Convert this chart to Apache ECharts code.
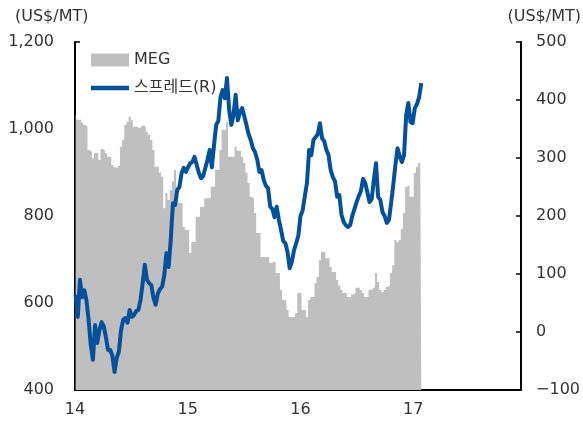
<!DOCTYPE html>
<html>
<head>
<meta charset="utf-8">
<script src="https://cdn.jsdelivr.net/npm/echarts@6/dist/echarts.min.js"></script>
<style>
  html, body { margin: 0; padding: 0; background: #fff; }
  #chart { width: 583px; height: 421px; }
</style>
</head>
<body>
<div id="chart"></div>
<script>
// Weekly observations (Friday closes), Jan 2014 - Jan 2017
const dates = [
  '2014-01-03','2014-01-10','2014-01-17','2014-01-24','2014-01-31','2014-02-07','2014-02-14','2014-02-21','2014-02-28',
  '2014-03-07','2014-03-14','2014-03-21','2014-03-28','2014-04-04','2014-04-11','2014-04-18','2014-04-25',
  '2014-05-02','2014-05-09','2014-05-16','2014-05-23','2014-05-30','2014-06-06','2014-06-13','2014-06-20','2014-06-27',
  '2014-07-04','2014-07-11','2014-07-18','2014-07-25','2014-08-01','2014-08-08','2014-08-15','2014-08-22','2014-08-29',
  '2014-09-05','2014-09-12','2014-09-19','2014-09-26','2014-10-03','2014-10-10','2014-10-17','2014-10-24','2014-10-31',
  '2014-11-07','2014-11-14','2014-11-21','2014-11-28','2014-12-05','2014-12-12','2014-12-19','2014-12-26',
  '2015-01-02','2015-01-09','2015-01-16','2015-01-23','2015-01-30','2015-02-06','2015-02-13','2015-02-20','2015-02-27',
  '2015-03-06','2015-03-13','2015-03-20','2015-03-27','2015-04-03','2015-04-10','2015-04-17','2015-04-24',
  '2015-05-01','2015-05-08','2015-05-15','2015-05-22','2015-05-29','2015-06-05','2015-06-12','2015-06-19','2015-06-26',
  '2015-07-03','2015-07-10','2015-07-17','2015-07-24','2015-07-31','2015-08-07','2015-08-14','2015-08-21','2015-08-28',
  '2015-09-04','2015-09-11','2015-09-18','2015-09-25','2015-10-02','2015-10-09','2015-10-16','2015-10-23','2015-10-30',
  '2015-11-06','2015-11-13','2015-11-20','2015-11-27','2015-12-04','2015-12-11','2015-12-18','2015-12-25',
  '2016-01-01','2016-01-08','2016-01-15','2016-01-22','2016-01-29','2016-02-05','2016-02-12','2016-02-19','2016-02-26',
  '2016-03-04','2016-03-11','2016-03-18','2016-03-25','2016-04-01','2016-04-08','2016-04-15','2016-04-22','2016-04-29',
  '2016-05-06','2016-05-13','2016-05-20','2016-05-27','2016-06-03','2016-06-10','2016-06-17','2016-06-24',
  '2016-07-01','2016-07-08','2016-07-15','2016-07-22','2016-07-29','2016-08-05','2016-08-12','2016-08-19','2016-08-26',
  '2016-09-02','2016-09-09','2016-09-16','2016-09-23','2016-09-30','2016-10-07','2016-10-14','2016-10-21','2016-10-28',
  '2016-11-04','2016-11-11','2016-11-18','2016-11-25','2016-12-02','2016-12-09','2016-12-16','2016-12-23','2016-12-30',
  '2017-01-06','2017-01-13','2017-01-20','2017-01-27'
];

// MEG price (US$/MT, left axis)
const megPrice = [
  1032,1021,1021,1015,1009,1005,952,948,933,945,
  945,929,954,952,945,936,936,917,912,910,
  915,959,975,1009,1016,1028,1020,1005,1005,1002,
  1005,1009,1005,993,986,975,952,913,913,900,
  890,818,853,837,860,880,906,860,830,830,
  775,768,768,715,740,740,798,798,821,821,
  841,841,841,867,867,906,906,952,998,998,
  1016,936,936,936,959,950,950,936,922,900,
  876,844,840,807,761,761,706,706,706,706,
  692,694,694,669,669,630,607,607,584,568,
  568,568,577,623,623,584,584,568,607,614,
  614,646,660,699,717,717,703,703,683,671,
  671,653,640,630,623,623,614,614,620,623,
  635,635,630,623,614,614,630,633,637,669,
  648,630,625,630,637,640,669,687,745,740,
  745,770,807,867,871,844,844,899,913,922,
  952
];

// Spread (US$/MT, right axis)
const spread = [
  64,26,90,60,72,55,21,-22,-48,12,
  -19,3,17,10,-9,-31,-31,-41,-69,-45,
  -34,3,21,24,16,38,26,29,36,38,
  55,84,116,90,84,81,59,47,66,74,
  78,98,136,112,159,222,219,245,250,274,
  283,276,284,291,293,302,288,274,265,269,
  283,297,314,284,322,357,364,405,417,403,
  438,383,357,374,409,365,379,386,372,357,
  341,331,317,310,297,276,279,262,252,248,
  216,212,198,216,193,176,157,153,138,110,
  121,141,153,166,200,210,234,257,314,305,
  331,336,341,360,334,329,314,305,279,267,
  260,233,236,202,190,184,181,184,200,212,
  224,234,243,264,257,241,224,229,262,291,
  233,228,207,200,188,193,222,253,288,317,
  303,293,305,374,395,362,360,386,393,405,
  429
];

const yearTicks = [14, 15, 16, 17];
const leftTicks = [400, 600, 800, 1000, 1200];
const rightTicks = [-100, 0, 100, 200, 300, 400, 500];

// Convert a date string into a two-digit decimal year (2014-01-01 -> 14.0)
function decimalYear(s) {
  const [y, m, d] = s.split('-').map(Number);
  const start = Date.UTC(y, 0, 1);
  const end = Date.UTC(y + 1, 0, 1);
  return (y - 2000) + (Date.UTC(y, m - 1, d) - start) / (end - start);
}

const xs = dates.map(decimalYear);
const megData = xs.map((x, i) => [x, megPrice[i]]);
const spreadData = xs.map((x, i) => [x, spread[i]]);

const FONT = "'DejaVu Sans', 'Noto Sans CJK KR', sans-serif";
const TEXT = '#333333';
const GRAY = '#bfbfbf';
const BLUE = '#03519c';

const axisLineStyle = { color: '#000', width: 2 };
const axisTick = { show: true, inside: true, length: 5, lineStyle: { color: '#000', width: 1.5 } };

const chart = echarts.init(document.getElementById('chart'), null, { renderer: 'canvas' });
chart.setOption({
  animation: false,
  backgroundColor: '#ffffff',
  textStyle: { fontFamily: FONT },
  grid: { left: 75, right: 57, top: 42, bottom: 31, containLabel: false },
  legend: {
    orient: 'vertical',
    left: 86,
    top: 47,
    itemWidth: 38,
    itemHeight: 13,
    itemGap: 12,
    textStyle: { fontFamily: FONT, fontSize: 16, color: TEXT },
    data: [
      { name: 'MEG', icon: 'rect', itemStyle: { color: GRAY } },
      { name: '스프레드(R)', icon: 'path://M0,0H38V4.5H0Z' }
    ]
  },
  xAxis: {
    type: 'value',
    min: yearTicks[0],
    max: 17.956,
    interval: 1,
    axisLine: { show: true, onZero: false, lineStyle: axisLineStyle },
    axisTick: axisTick,
    splitLine: { show: false },
    axisLabel: {
      fontFamily: FONT, fontSize: 16, color: TEXT, margin: 12,
      showMaxLabel: false,
      formatter: v => (yearTicks.indexOf(v) >= 0 ? String(v) : '')
    }
  },
  yAxis: [
    {
      type: 'value',
      position: 'left',
      min: leftTicks[0],
      max: leftTicks[leftTicks.length - 1],
      interval: 200,
      axisLine: { show: true, onZero: false, lineStyle: axisLineStyle },
      axisTick: axisTick,
      splitLine: { show: false },
      axisLabel: {
        fontFamily: FONT, fontSize: 16, color: TEXT, margin: 21,
        formatter: v => v.toLocaleString('en-US')
      }
    },
    {
      type: 'value',
      position: 'right',
      min: rightTicks[0],
      max: rightTicks[rightTicks.length - 1],
      interval: 100,
      axisLine: { show: true, onZero: false, lineStyle: axisLineStyle },
      axisTick: axisTick,
      splitLine: { show: false },
      axisLabel: {
        fontFamily: FONT, fontSize: 16, color: TEXT, margin: 15,
        formatter: v => (v < 0 ? '\u2212' + Math.abs(v) : String(v))
      }
    }
  ],
  graphic: [
    {
      type: 'text', left: 15, top: 9,
      style: { text: '(US$/MT)', fontFamily: FONT, fontSize: 16, fill: TEXT }
    },
    {
      type: 'text', right: 2, top: 9,
      style: { text: '(US$/MT)', fontFamily: FONT, fontSize: 16, fill: TEXT }
    }
  ],
  series: [
    {
      // weekly MEG price drawn as contiguous weekly columns (stepped area)
      name: 'MEG',
      type: 'line',
      step: 'middle',
      yAxisIndex: 0,
      data: megData,
      showSymbol: false,
      symbol: 'none',
      lineStyle: { width: 0, color: GRAY },
      itemStyle: { color: GRAY },
      areaStyle: { color: GRAY, opacity: 1 },
      z: 1
    },
    {
      name: '스프레드(R)',
      type: 'line',
      yAxisIndex: 1,
      data: spreadData,
      showSymbol: false,
      symbol: 'none',
      lineStyle: { color: BLUE, width: 4, join: 'round' },
      itemStyle: { color: BLUE },
      z: 3
    }
  ]
});
</script>
</body>
</html>
